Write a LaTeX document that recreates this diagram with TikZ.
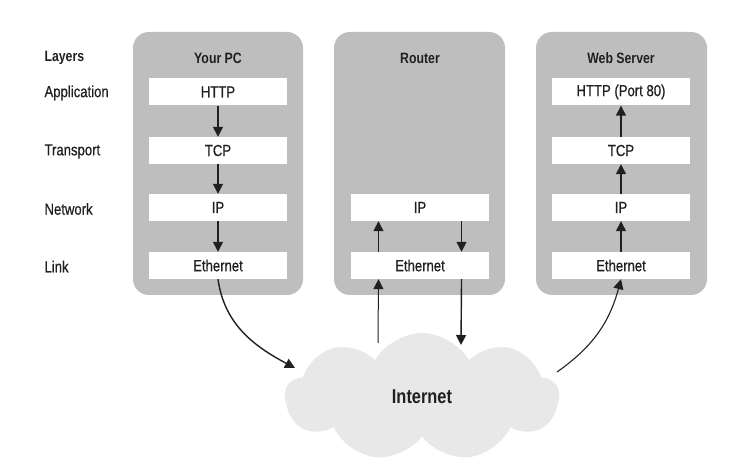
\documentclass[tikz,border=0pt]{standalone}
\usepackage{fontspec}
\setmainfont{Liberation Sans}[FakeStretch=0.82,UprightFeatures={FakeBold=0.6}]
\usetikzlibrary{shapes.symbols,arrows.meta,calc}
\definecolor{c1}{RGB}{190,190,190}
\definecolor{c2}{RGB}{232,232,232}
\definecolor{c3}{RGB}{35,31,32}

\begin{document}
\begin{tikzpicture}[x=1pt,y=1pt,
  txt/.style={font=\fontsize{16}{18}\selectfont,text=c3},
  head/.style={font=\fontsize{15}{18}\selectfont\bfseries,text=c3},
  panel/.style={fill=c1,rounded corners=16pt,minimum width=170pt,minimum height=263pt},
  box/.style={txt,fill=white,minimum width=138pt,minimum height=27pt,inner sep=0pt},
  arr/.style={draw=c3,line width=1.4pt,-{Triangle[length=10pt,width=10pt]}}]
\useasboundingbox (0,0) rectangle (753,471);

%%% Panels
\node[panel] (pc) at (218,307.5) {};
\node[panel,minimum width=171pt] (rt) at (419.5,307.5) {};
\node[panel,minimum width=171pt] (ws) at (621.5,307.5) {};

%%% Layer names
\node[head,anchor=west] (lay) at (41,413) {Layers};
\node[txt,anchor=west] (app) at (41,378) {Application};
\node[txt,anchor=west] (tra) at (41,319.5) {Transport};
\node[txt,anchor=west] (netw) at (41,262) {Network};
\node[txt,anchor=west] (lnk) at (41,204.5) {Link};

%%% Your PC
\node[head] (pcH) at (218,413) {Your PC};
\node[box] (pHTTP) at (218,379) {HTTP};
\node[box] (pTCP) at (218,320.5) {TCP};
\node[box] (pIP) at (218,263.5) {IP};
\node[box] (pEth) at (218,205.5) {Ethernet};

%%% Router
\node[head] (rtH) at (420,413) {Router};
\node[box] (rIP) at (420,263.5) {IP};
\node[box] (rEth) at (420,205.5) {Ethernet};

%%% Web Server
\node[head] (wsH) at (621,413) {Web Server};
\node[box] (wHTTP) at (621,379) {HTTP (Port 80)};
\node[box] (wTCP) at (621,320.5) {TCP};
\node[box] (wIP) at (621,263.5) {IP};
\node[box] (wEth) at (621,205.5) {Ethernet};

%%% Internet
\node[cloud,cloud puffs=9,cloud puff arc=120,aspect=2.1,fill=c2,
  minimum width=274pt,minimum height=128pt,
  font=\fontsize{20}{22}\selectfont\bfseries,text=c3] (net) at (422,74) {Internet};
\coordinate (netA) at (295,103);
\coordinate (netB) at (378,128);
\coordinate (netC) at (461,126);
\coordinate (netD) at (557,99);

%%% Arrows
\draw[arr] (pHTTP) -- (pTCP);
\draw[arr] (pTCP) -- (pIP);
\draw[arr] (pIP) -- (pEth);
\draw[arr] (pEth.south) to[out=-82,in=152] (netA);

\draw[arr] ($(rEth.north west)!0.2!(rEth.north east)$) -- ($(rIP.south west)!0.2!(rIP.south east)$);
\draw[arr] ($(rIP.south west)!0.8!(rIP.south east)$) -- ($(rEth.north west)!0.8!(rEth.north east)$);
\draw[arr,line width=1pt] (netB) -- ($(rEth.south west)!0.2!(rEth.south east)$);
\draw[arr] ($(rEth.south west)!0.8!(rEth.south east)$) -- (netC);

\draw[arr,line width=1.1pt] (netD) to[out=35,in=-105] (wEth.south);
\draw[arr] (wEth) -- (wIP);
\draw[arr] (wIP) -- (wTCP);
\draw[arr] (wTCP) -- (wHTTP);
\end{tikzpicture}
\end{document}
